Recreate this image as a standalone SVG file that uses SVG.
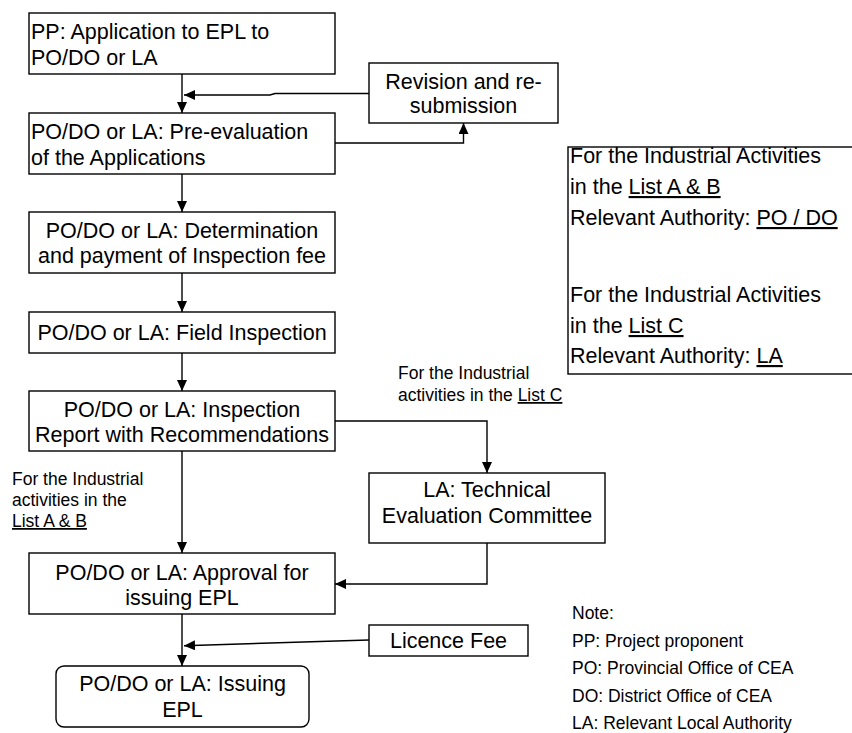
<svg xmlns="http://www.w3.org/2000/svg" width="852" height="733" viewBox="0 0 852 733">
<style>
.box{fill:#fff;stroke:#000;stroke-width:1.4}
.t{font-family:"Liberation Sans",Arial,sans-serif;font-size:21.5px;fill:#000}
.c{text-anchor:middle}
.s{font-family:"Liberation Sans",Arial,sans-serif;font-size:17.5px;fill:#000}
.u{text-decoration:underline}
.ln{fill:none;stroke:#000;stroke-width:1.4}
</style>
<defs>
<marker id="ah" markerUnits="userSpaceOnUse" markerWidth="11" markerHeight="10" refX="11" refY="5" orient="auto">
<path d="M0,0 L11,5 L0,10 z" fill="#000"/>
</marker>
</defs>
<rect width="852" height="733" fill="#fff"/>
<g id="connectors">
<path class="ln" d="M182,74 L182,113" marker-end="url(#ah)"/>
<path class="ln" d="M369,93.5 L275,93.5 L270,95 L184,95" marker-end="url(#ah)"/>
<path class="ln" d="M335,143 L463.5,143 L463.5,123" marker-end="url(#ah)"/>
<path class="ln" d="M182,174 L182,212" marker-end="url(#ah)"/>
<path class="ln" d="M182,273 L182,312" marker-end="url(#ah)"/>
<path class="ln" d="M182,353 L182,391" marker-end="url(#ah)"/>
<path class="ln" d="M335,421 L487,421 L487,473" marker-end="url(#ah)"/>
<path class="ln" d="M182,451 L182,553" marker-end="url(#ah)"/>
<path class="ln" d="M487,543 L487,584 L335,584" marker-end="url(#ah)"/>
<path class="ln" d="M182,614 L182,666" marker-end="url(#ah)"/>
<path class="ln" d="M369,640 L184,645.7" marker-end="url(#ah)"/>
</g>
<g id="n1">
<rect class="box" x="29" y="13" width="306" height="61"/>
<text class="t" x="31" y="39">PP: Application to EPL to</text>
<text class="t" x="31" y="65">PO/DO or LA</text>
</g>
<g id="n2">
<rect class="box" x="29" y="113" width="306" height="61"/>
<text class="t" x="31" y="139">PO/DO or LA: Pre-evaluation</text>
<text class="t" x="31" y="165">of the Applications</text>
</g>
<g id="rev">
<rect class="box" x="369" y="63" width="189" height="60"/>
<text class="t c" x="463.5" y="89">Revision and re-</text>
<text class="t c" x="463.5" y="113">submission</text>
</g>
<g id="n3">
<rect class="box" x="29" y="212" width="306" height="61"/>
<text class="t c" x="182" y="238">PO/DO or LA: Determination</text>
<text class="t c" x="182" y="263">and payment of Inspection fee</text>
</g>
<g id="n4">
<rect class="box" x="29" y="312" width="306" height="41"/>
<text class="t c" x="182" y="340">PO/DO or LA: Field Inspection</text>
</g>
<g id="n5">
<rect class="box" x="29" y="391" width="306" height="60"/>
<text class="t c" x="182" y="417">PO/DO or LA: Inspection</text>
<text class="t c" x="182" y="442">Report with Recommendations</text>
</g>
<g id="lblC">
<text class="s" x="398" y="379">For the Industrial</text>
<text class="s" x="398" y="401">activities in the <tspan class="u">List C</tspan></text>
</g>
<g id="lblAB">
<text class="s" x="12" y="485">For the Industrial</text>
<text class="s" x="12" y="506">activities in the</text>
<text class="s u" x="12" y="527">List A &amp; B</text>
</g>
<g id="tec">
<rect class="box" x="369" y="473" width="236" height="70"/>
<text class="t c" x="487" y="497">LA: Technical</text>
<text class="t c" x="487" y="523">Evaluation Committee</text>
</g>
<g id="n6">
<rect class="box" x="29" y="553" width="306" height="61"/>
<text class="t c" x="182" y="580">PO/DO or LA: Approval for</text>
<text class="t c" x="182" y="605">issuing EPL</text>
</g>
<g id="fee">
<rect class="box" x="369" y="625" width="159" height="31"/>
<text class="t c" x="448.5" y="647.5">Licence Fee</text>
</g>
<g id="n7">
<rect class="box" x="56" y="666" width="253" height="61" rx="8" ry="8"/>
<text class="t c" x="182.5" y="691">PO/DO or LA: Issuing</text>
<text class="t c" x="182.5" y="717">EPL</text>
</g>
<g id="legend">
<rect class="box" x="568" y="147" width="290" height="227"/>
<text class="t" x="570" y="163">For the Industrial Activities</text>
<text class="t" x="570" y="194">in the <tspan class="u">List A &amp; B</tspan></text>
<text class="t" x="570" y="225">Relevant Authority: <tspan class="u">PO / DO</tspan></text>
<text class="t" x="570" y="302">For the Industrial Activities</text>
<text class="t" x="570" y="333">in the <tspan class="u">List C</tspan></text>
<text class="t" x="570" y="363">Relevant Authority: <tspan class="u">LA</tspan></text>
</g>
<g id="note">
<text class="s" x="572" y="619">Note:</text>
<text class="s" x="572" y="646.5">PP: Project proponent</text>
<text class="s" x="572" y="674">PO: Provincial Office of CEA</text>
<text class="s" x="572" y="701.5">DO: District Office of CEA</text>
<text class="s" x="572" y="728.5">LA: Relevant Local Authority</text>
</g>
</svg>
